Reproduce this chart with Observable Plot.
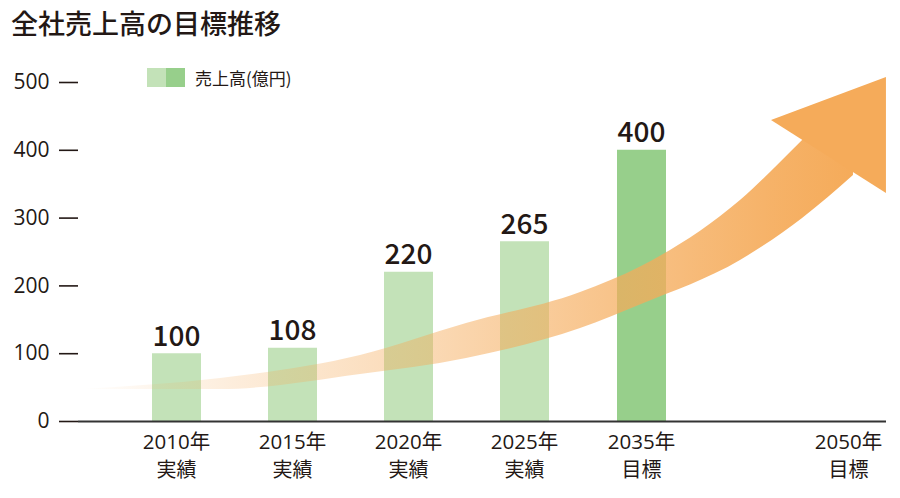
<!DOCTYPE html>
<html>
<head>
<meta charset="utf-8">
<script src="https://cdn.jsdelivr.net/npm/d3@7"></script>
<script src="https://cdn.jsdelivr.net/npm/@observablehq/plot@0.6"></script>
<style>
  html, body { margin: 0; padding: 0; background: #fff; }
  body { width: 900px; height: 498px; position: relative; overflow: hidden;
         font-family: "Open Sans", "Noto Sans CJK JP", sans-serif; color: #231815; }
  #title { height: 46px; line-height: 46px; padding-left: 11px; font-size: 27px; font-weight: 500;
           font-family: "Noto Sans CJK JP", sans-serif; }
  #legend { position: absolute; top: 68px; left: 147px; display: flex; align-items: center; font-size: 17px; }
  #legend .sw { width: 19px; height: 19px; display: inline-block; }
  #legend span.t { margin-left: 10px; line-height: 19px; font-family: "Noto Sans CJK JP", sans-serif; }
  #chart svg g[aria-label^="y-axis"] line,
  #chart svg g[aria-label="y-axis tick"] path { stroke-width: 1.6px; }
</style>
</head>
<body>
<div id="title">全社売上高の目標推移</div>
<div id="legend"><span class="sw" id="sw1"></span><span class="sw" id="sw2"></span><span class="t">売上高(億円)</span></div>
<div id="chart"></div>
<script>
// ---- data ----
const years  = [2010, 2015, 2020, 2025, 2035, 2050];
const sales  = [100, 108, 220, 265, 400, null];
const kinds  = ["実績", "実績", "実績", "実績", "目標", "目標"];
const yTicks = [0, 100, 200, 300, 400, 500];

// decorative growth arrow (shaft edges and head, in year / 億円 units)
const trendYears = [2005.86, 2011.9, 2017.93, 2022.5, 2029.79, 2035, 2042.17, 2046.67, 2050.36];
const trendLow   = [47.2, 47.2, 69.3, 92.9, 137.2, 172.6, 237.5, 299.4, 362.8];
const trendHigh  = [47.2, 63.4, 97.3, 144.5, 190.3, 228.6, 326.0, 414.5, 488.2];
const headYears  = [2044.42, 2052.75];
const headLow    = [444.0, 336.3];
const headHigh   = [444.0, 507.4];

const lightGreen = "#c3e2b8", darkGreen = "#97cf8b", orange = "#f5ab5a", ink = "#231815";
document.getElementById("sw1").style.background = lightGreen;
document.getElementById("sw2").style.background = darkGreen;

const rows  = years.map((y, i) => ({year: y, value: sales[i], kind: kinds[i]}));
const bars  = rows.filter(d => d.value != null);
const shaft = trendYears.map((y, i) => ({year: y, lo: trendLow[i], hi: trendHigh[i]}));
const head  = headYears.map((y, i) => ({year: y, lo: headLow[i], hi: headHigh[i]}));

const font = "'Open Sans', 'Noto Sans CJK JP', sans-serif";
const chart = Plot.plot({
  width: 900,
  height: 452,
  marginTop: 36,
  marginBottom: 77,
  marginLeft: 78,
  marginRight: 14,
  style: {fontFamily: font, fontSize: "21px", color: ink, background: "transparent", overflow: "visible"},
  x: {type: "linear", domain: [2010, 2025, 2035, 2050], range: [176, 524, 641, 848], axis: null},
  y: {domain: [0, 500], ticks: yTicks, tickSize: 19, tickPadding: 10, label: null, tickFormat: d => String(d)},
  color: {domain: ["実績", "目標"], range: [lightGreen, darkGreen]},
  marks: [
    Plot.ruleX(bars, {x: "year", y1: 0, y2: "value", stroke: "kind", strokeWidth: 49}),
    Plot.areaY(shaft, {x: "year", y1: "lo", y2: "hi", curve: "monotone-x", fill: "url(#arrowGrad)"}),
    Plot.areaY(head, {x: "year", y1: "lo", y2: "hi", curve: "linear", fill: orange}),
    Plot.ruleY([0], {stroke: "#333", strokeWidth: 2}),
    Plot.text(bars, {x: "year", y: "value", text: d => String(d.value), dy: -8, lineAnchor: "bottom", fontSize: 28, fontWeight: 500, fill: ink, fontFamily: "'Noto Sans CJK JP', sans-serif"}),
    Plot.text(rows, {x: "year", y: 0, text: d => `${d.year}年`, dy: 21, lineAnchor: "middle", fontSize: 20.5, fill: ink}),
    Plot.text(rows, {x: "year", y: 0, text: "kind", dy: 49, lineAnchor: "middle", fontSize: 20, fill: ink, fontFamily: "'Noto Sans CJK JP', sans-serif"})
  ]
});

// gradient for the arrow shaft (transparent at the tail, solid at the head)
const ns = "http://www.w3.org/2000/svg";
const defs = document.createElementNS(ns, "defs");
const grad = document.createElementNS(ns, "linearGradient");
grad.setAttribute("id", "arrowGrad");
grad.setAttribute("x1", "0"); grad.setAttribute("x2", "1");
grad.setAttribute("y1", "0"); grad.setAttribute("y2", "0");
[[0, 0], [0.12, 0.14], [0.45, 0.45], [0.7, 0.72], [0.9, 0.92], [1, 1]].forEach(([o, a]) => {
  const s = document.createElementNS(ns, "stop");
  s.setAttribute("offset", o);
  s.setAttribute("stop-color", orange);
  s.setAttribute("stop-opacity", a);
  grad.appendChild(s);
});
defs.appendChild(grad);
chart.insertBefore(defs, chart.firstChild);

document.getElementById("chart").appendChild(chart);
</script>
</body>
</html>
